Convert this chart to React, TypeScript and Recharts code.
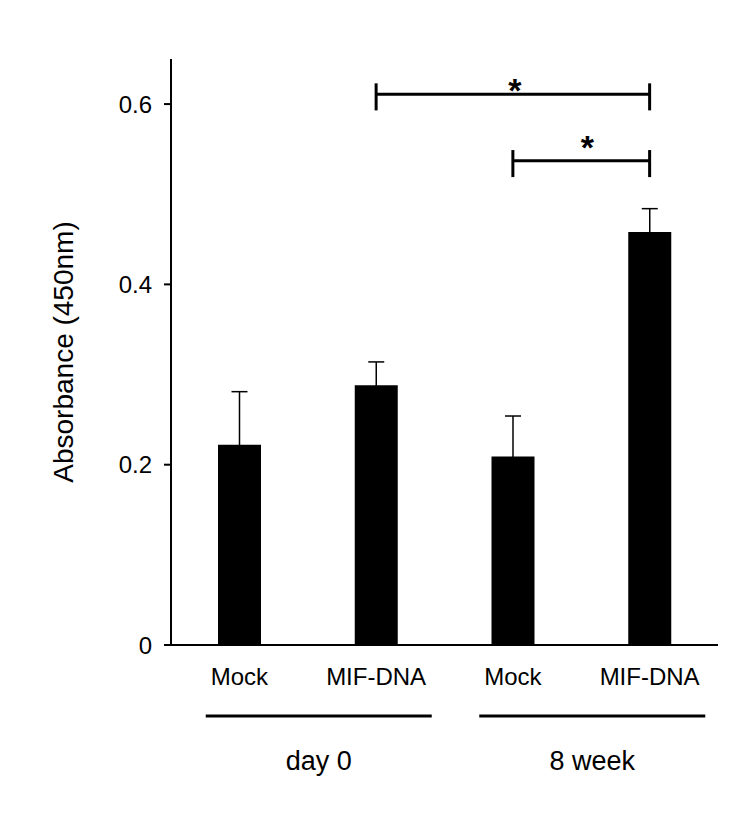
import React from 'react';
import { BarChart, Bar, XAxis, YAxis, ErrorBar, ReferenceLine } from 'recharts';

// Category ids (unique), their printed labels, and the timepoint each belongs to
const categoryIds = ['d0-mock', 'd0-mif', 'w8-mock', 'w8-mif'];
const categoryLabels = ['Mock', 'MIF-DNA', 'Mock', 'MIF-DNA'];
const groups = ['day 0', 'day 0', '8 week', '8 week'];

// Mean absorbance and SD (upper whisker) per category
const absorbance = [0.222, 0.288, 0.209, 0.458];
const sd = [0.059, 0.026, 0.045, 0.026];

const yTicks = [0, 0.2, 0.4, 0.6];

// Significance brackets: from / to category, height, marker
const bracketFrom = ['d0-mif', 'w8-mock'];
const bracketTo = ['w8-mif', 'w8-mif'];
const bracketY = [0.611, 0.537];
const bracketMark = ['*', '*'];
// Marker placement tweaks (px) relative to the bracket's midpoint
const markShiftX = [2, 6];
const markLift = [0, 10];

const data = categoryIds.map((id, i) => ({
  id,
  label: categoryLabels[i],
  group: groups[i],
  value: absorbance[i],
  err: sd[i],
}));

const FONT = '"Liberation Sans", Arial, Helvetica, sans-serif';

const CategoryTick = (props: any) => {
  const { x, y, payload } = props;
  const idx = categoryIds.indexOf(payload.value);
  return (
    <text x={x} y={y + 40} textAnchor="middle" fontSize={24} fontFamily={FONT} fill="#000">
      {categoryLabels[idx]}
    </text>
  );
};

const GroupTick = (props: any) => {
  const { x, y, payload } = props;
  return (
    <g>
      <line x1={x - 102} x2={x + 124} y1={y + 11} y2={y + 11} stroke="#000" strokeWidth={3} />
      <text x={x + 11} y={y + 65} textAnchor="middle" fontSize={27} fontFamily={FONT} fill="#000">
        {payload.value}
      </text>
    </g>
  );
};

const ValueTick = (props: any) => {
  const { x, y, payload } = props;
  const v = payload.value as number;
  return (
    <text
      x={x}
      y={y}
      textAnchor="end"
      dominantBaseline="central"
      fontSize={24}
      fontFamily={FONT}
      fill="#000"
    >
      {v === 0 ? '0' : v.toFixed(1)}
    </text>
  );
};

const YLabel = (props: any) => {
  const vb = props.viewBox || {};
  const cx = (vb.x ?? 0) + 35;
  const cy = (vb.y ?? 0) + (vb.height ?? 0) / 2;
  return (
    <text
      x={cx}
      y={cy}
      transform={`rotate(-90, ${cx}, ${cy})`}
      textAnchor="middle"
      dominantBaseline="central"
      fontSize={28}
      fontFamily={FONT}
      fill="#000"
    >
      Absorbance (450nm)
    </text>
  );
};

const makeStar = (i: number) => (props: any) => {
  const vb = props.viewBox || {};
  const cx = (vb.x ?? 0) + (vb.width ?? 0) / 2 + markShiftX[i];
  const cy = (vb.y ?? 0) - markLift[i];
  return (
    <text x={cx} y={cy + 8} textAnchor="middle" fontSize={34} fontWeight="bold" fontFamily={FONT} fill="#000">
      {bracketMark[i]}
    </text>
  );
};

export default function App() {
  return (
    <BarChart
      width={734}
      height={800}
      data={data}
      margin={{ top: 51, right: 24, bottom: 13, left: 20 }}
      barCategoryGap={0}
    >
      <XAxis
        dataKey="id"
        interval={0}
        tickLine={false}
        tickSize={0}
        tickMargin={0}
        height={60}
        axisLine={{ stroke: '#000', strokeWidth: 2 }}
        tick={<CategoryTick />}
      />
      <XAxis
        xAxisId="grp"
        dataKey="group"
        allowDuplicatedCategory={false}
        interval={0}
        axisLine={false}
        tickLine={false}
        tickSize={0}
        tickMargin={0}
        height={90}
        tick={<GroupTick />}
      />
      <YAxis
        width={143}
        domain={[0, 0.65]}
        ticks={yTicks}
        interval={0}
        allowDataOverflow
        tickSize={7}
        tickMargin={12}
        axisLine={{ stroke: '#000', strokeWidth: 2 }}
        tickLine={{ stroke: '#000', strokeWidth: 2 }}
        tick={<ValueTick />}
        label={<YLabel />}
      />
      <Bar dataKey="value" fill="#000" barSize={43} isAnimationActive={false}>
        <ErrorBar dataKey="err" direction="y" width={8} stroke="#000" strokeWidth={1.5} />
      </Bar>
      {bracketFrom.map((from, i) => (
        <ReferenceLine
          key={`h-${i}`}
          segment={[
            { x: from, y: bracketY[i] },
            { x: bracketTo[i], y: bracketY[i] },
          ]}
          stroke="#000"
          strokeWidth={3}
          ifOverflow="visible"
          label={makeStar(i)}
        />
      ))}
      {bracketFrom.map((from, i) => (
        <ReferenceLine
          key={`l-${i}`}
          segment={[
            { x: from, y: bracketY[i] - 0.018 },
            { x: from, y: bracketY[i] + 0.012 },
          ]}
          stroke="#000"
          strokeWidth={3}
          ifOverflow="visible"
        />
      ))}
      {bracketTo.map((to, i) => (
        <ReferenceLine
          key={`r-${i}`}
          segment={[
            { x: to, y: bracketY[i] - 0.018 },
            { x: to, y: bracketY[i] + 0.012 },
          ]}
          stroke="#000"
          strokeWidth={3}
          ifOverflow="visible"
        />
      ))}
    </BarChart>
  );
}
